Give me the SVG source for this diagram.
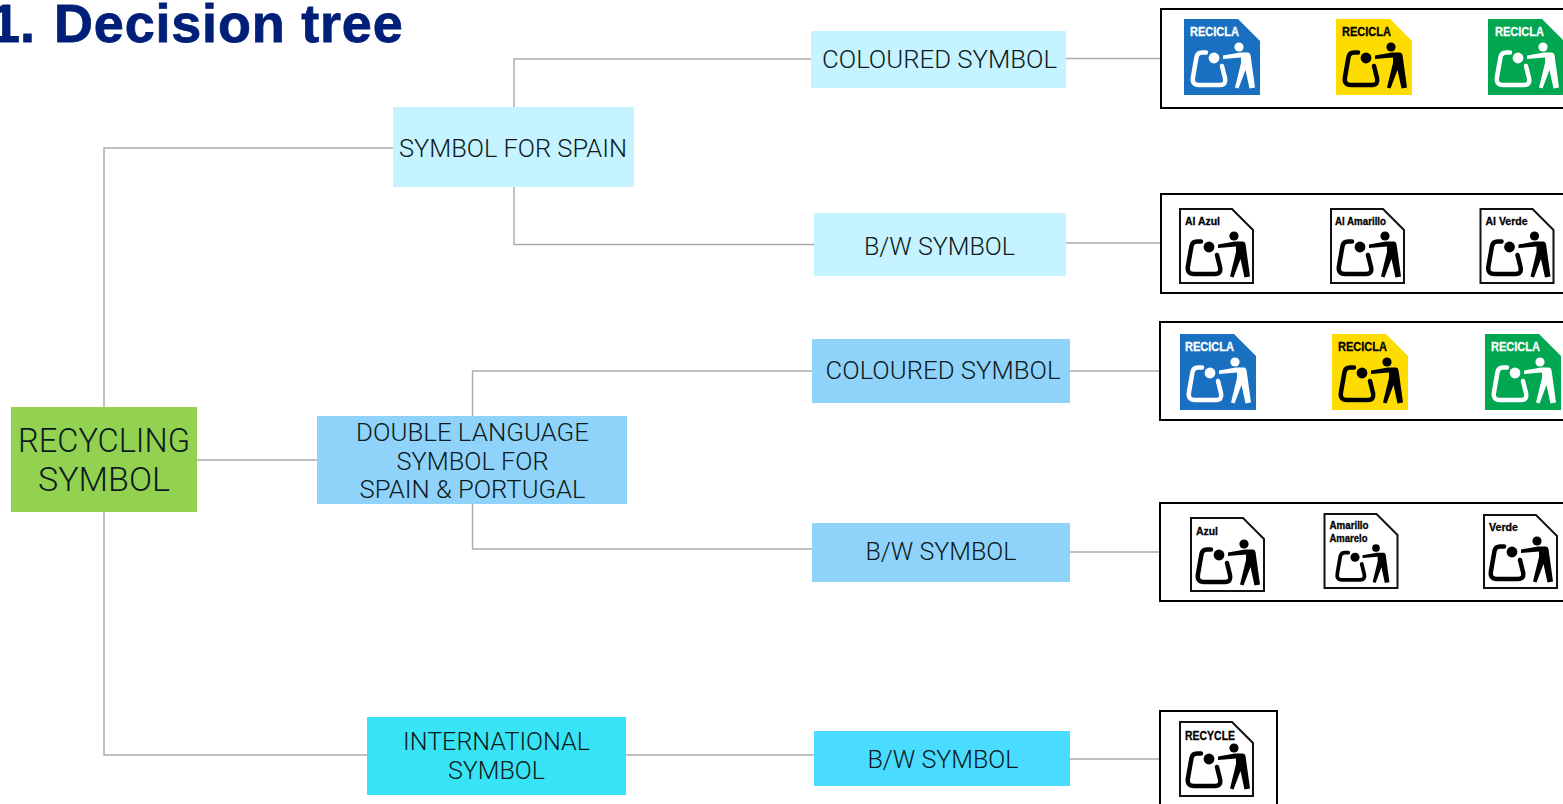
<svg xmlns="http://www.w3.org/2000/svg" width="1563" height="804" viewBox="0 0 1563 804">
<style>
.bg{fill:#fff}
.title{font-family:"Liberation Sans",Arial,sans-serif;font-weight:700;font-size:54px;letter-spacing:.8px;fill:#001f78;stroke:#001f78;stroke-width:.8}
.lbl{font-family:Roboto,"Liberation Sans",sans-serif;font-weight:300;font-size:25.700px;fill:#0c1a20;text-anchor:middle}
.big{font-size:33px}
.conn path{fill:none;stroke:#aaa;stroke-width:1.400}
.frame{fill:#fff;stroke:#000;stroke-width:2}
.ic{font-family:"Liberation Sans",Arial,sans-serif;font-weight:700}
.ic text{fill:currentColor;stroke:currentColor;stroke-width:.3}
.blue{color:#fff}.blue .pl{fill:#1a70c0}
.yellow{color:#000}.yellow .pl{fill:#ffdc00}
.green{color:#fff}.green .pl{fill:#00a650}
.bw{color:#000}.bw .pl{fill:#fff;stroke:#111;stroke-width:2}
</style>
<defs>
<g id="glyph">
<path d="M22,33.500H18Q13.500,33.500 12.500,38L9,58Q7.500,66 15,66H36Q42.500,66 41,59L38,47" fill="none" stroke="currentColor" stroke-width="4.500" stroke-linecap="round"/>
<circle cx="30" cy="39" r="5.400" fill="currentColor"/>
<circle cx="55" cy="28" r="4.600" fill="currentColor"/>
<path d="M39,36.500L56,33.500H64Q66,33.500 66.500,36L71,68.500L65.500,69.500L61.500,51L54.500,69.500L51,68.500L57,44L57,38.500L39,40Z" fill="currentColor"/>
</g>
</defs>
<rect class="bg" width="1563" height="804"/>
<text id="title" class="title" y="42"><tspan x="-10">1</tspan><tspan x="20">.</tspan><tspan x="54"> </tspan><tspan x="54">Decision tree</tspan></text>
<g class="conn" id="connectors">
<path d="M104,407V148H393"/>
<path d="M104,512V755H367"/>
<path d="M197,460H317"/>
<path d="M514,107V59H811"/>
<path d="M514,187V244.500H814"/>
<path d="M472.500,416V371H812"/>
<path d="M472.500,504V549H812"/>
<path d="M626,755H814"/>
<path d="M1066,58.500H1161"/>
<path d="M1066,243H1161"/>
<path d="M1070,371H1160"/>
<path d="M1070,552H1160"/>
<path d="M1070,759H1160"/>
</g>
<g id="node-recycling"><rect x="11" y="407" width="186" height="105" fill="#92d250"/><text class="lbl big" x="104" y="452" textLength="172" lengthAdjust="spacingAndGlyphs">RECYCLING</text><text class="lbl big" x="104" y="491" textLength="132" lengthAdjust="spacingAndGlyphs">SYMBOL</text></g>
<g id="node-spain"><rect x="393" y="107" width="241" height="80" fill="#c5f3ff"/><text class="lbl" x="513" y="157" textLength="228" lengthAdjust="spacingAndGlyphs">SYMBOL FOR SPAIN</text></g>
<g id="node-spain-col"><rect x="811" y="31" width="255" height="57" fill="#c5f3ff"/><text class="lbl" x="939.500" y="68" textLength="235" lengthAdjust="spacingAndGlyphs">COLOURED SYMBOL</text></g>
<g id="node-spain-bw"><rect x="814" y="213" width="252" height="63" fill="#c5f3ff"/><text class="lbl" x="939.500" y="255" textLength="151" lengthAdjust="spacingAndGlyphs">B/W SYMBOL</text></g>
<g id="node-double"><rect x="317" y="416" width="310" height="88" fill="#8fd3fa"/><text class="lbl" x="472.500" y="440.500" textLength="233" lengthAdjust="spacingAndGlyphs">DOUBLE LANGUAGE</text><text class="lbl" x="472.500" y="469.500" textLength="152" lengthAdjust="spacingAndGlyphs">SYMBOL FOR</text><text class="lbl" x="472.500" y="497.500" textLength="226" lengthAdjust="spacingAndGlyphs">SPAIN &amp; PORTUGAL</text></g>
<g id="node-double-col"><rect x="812" y="339" width="258" height="64" fill="#8fd3fa"/><text class="lbl" x="943" y="379" textLength="235" lengthAdjust="spacingAndGlyphs">COLOURED SYMBOL</text></g>
<g id="node-double-bw"><rect x="812" y="523" width="258" height="59" fill="#8fd3fa"/><text class="lbl" x="941" y="560" textLength="151" lengthAdjust="spacingAndGlyphs">B/W SYMBOL</text></g>
<g id="node-intl"><rect x="367" y="717" width="259" height="78" fill="#38e3f5"/><text class="lbl" x="496.500" y="749.500" textLength="187" lengthAdjust="spacingAndGlyphs">INTERNATIONAL</text><text class="lbl" x="496.500" y="778.500" textLength="97" lengthAdjust="spacingAndGlyphs">SYMBOL</text></g>
<g id="node-intl-bw"><rect x="814" y="731" width="256" height="55" fill="#4adcff"/><text class="lbl" x="943" y="768" textLength="151" lengthAdjust="spacingAndGlyphs">B/W SYMBOL</text></g>

<g id="frame-1"><rect class="frame" x="1161" y="9" width="420" height="99"/>
<g class="ic blue" transform="translate(1184,19)"><polygon class="pl" points="0,0 54,0 76,22 76,76 0,76"/><use href="#glyph"/><text x="6" y="17" font-size="12.500" textLength="49" lengthAdjust="spacingAndGlyphs">RECICLA</text></g>
<g class="ic yellow" transform="translate(1336,19)"><polygon class="pl" points="0,0 54,0 76,22 76,76 0,76"/><use href="#glyph"/><text x="6" y="17" font-size="12.500" textLength="49" lengthAdjust="spacingAndGlyphs">RECICLA</text></g>
<g class="ic green" transform="translate(1488,19)"><polygon class="pl" points="0,0 54,0 76,22 76,76 0,76"/><use href="#glyph"/><text x="7" y="17" font-size="12.500" textLength="49" lengthAdjust="spacingAndGlyphs">RECICLA</text></g></g>

<g id="frame-2"><rect class="frame" x="1161" y="194" width="420" height="99"/>
<g class="ic bw" transform="translate(1180,209)"><polygon class="pl" points="0,0 52,0 73,21 73,74 0,74"/><use href="#glyph" x="-1" y="-1"/><text x="5" y="16" font-size="10.500" textLength="35" lengthAdjust="spacingAndGlyphs">Al Azul</text></g>
<g class="ic bw" transform="translate(1331,209)"><polygon class="pl" points="0,0 52,0 73,21 73,74 0,74"/><use href="#glyph" x="-1" y="-1"/><text x="4" y="16" font-size="10.500" textLength="51" lengthAdjust="spacingAndGlyphs">Al Amarillo</text></g>
<g class="ic bw" transform="translate(1480.500,209)"><polygon class="pl" points="0,0 52,0 73,21 73,74 0,74"/><use href="#glyph" x="-1" y="-1"/><text x="5" y="16" font-size="10.500" textLength="42" lengthAdjust="spacingAndGlyphs">Al Verde</text></g></g>

<g id="frame-3"><rect class="frame" x="1160" y="322" width="420" height="98"/>
<g class="ic blue" transform="translate(1180,334)"><polygon class="pl" points="0,0 54,0 76,22 76,76 0,76"/><use href="#glyph"/><text x="5" y="17" font-size="12.500" textLength="49" lengthAdjust="spacingAndGlyphs">RECICLA</text></g>
<g class="ic yellow" transform="translate(1332,334)"><polygon class="pl" points="0,0 54,0 76,22 76,76 0,76"/><use href="#glyph"/><text x="6" y="17" font-size="12.500" textLength="49" lengthAdjust="spacingAndGlyphs">RECICLA</text></g>
<g class="ic green" transform="translate(1485,334)"><polygon class="pl" points="0,0 54,0 76,22 76,76 0,76"/><use href="#glyph"/><text x="6" y="17" font-size="12.500" textLength="49" lengthAdjust="spacingAndGlyphs">RECICLA</text></g></g>

<g id="frame-4"><rect class="frame" x="1160" y="503" width="420" height="98"/>
<g class="ic bw" transform="translate(1191,518)"><polygon class="pl" points="0,0 52,0 73,21 73,73 0,73"/><use href="#glyph" x="-2" y="-2"/><text x="5" y="17" font-size="11" textLength="22" lengthAdjust="spacingAndGlyphs">Azul</text></g>
<g class="ic bw" transform="translate(1324.500,514)"><polygon class="pl" points="0,0 52,0 73,21 73,74 0,74"/><g transform="translate(5.300,10.500) scale(.84)"><use href="#glyph"/></g><text x="5" y="15" font-size="10.500" textLength="39" lengthAdjust="spacingAndGlyphs">Amarillo</text><text x="5" y="28" font-size="10.500" textLength="38" lengthAdjust="spacingAndGlyphs">Amarelo</text></g>
<g class="ic bw" transform="translate(1484,515)"><polygon class="pl" points="0,0 52,0 73,21 73,73 0,73"/><use href="#glyph" x="-2" y="-2"/><text x="5" y="16" font-size="11" textLength="29" lengthAdjust="spacingAndGlyphs">Verde</text></g></g>

<g id="frame-5"><rect class="frame" x="1160" y="711" width="117" height="110"/>
<g class="ic bw" transform="translate(1180,722)"><polygon class="pl" points="0,0 52,0 73,21 73,74 0,74"/><use href="#glyph" x="-1" y="-2"/><text x="5" y="18" font-size="12" textLength="50" lengthAdjust="spacingAndGlyphs">RECYCLE</text></g></g>
</svg>
